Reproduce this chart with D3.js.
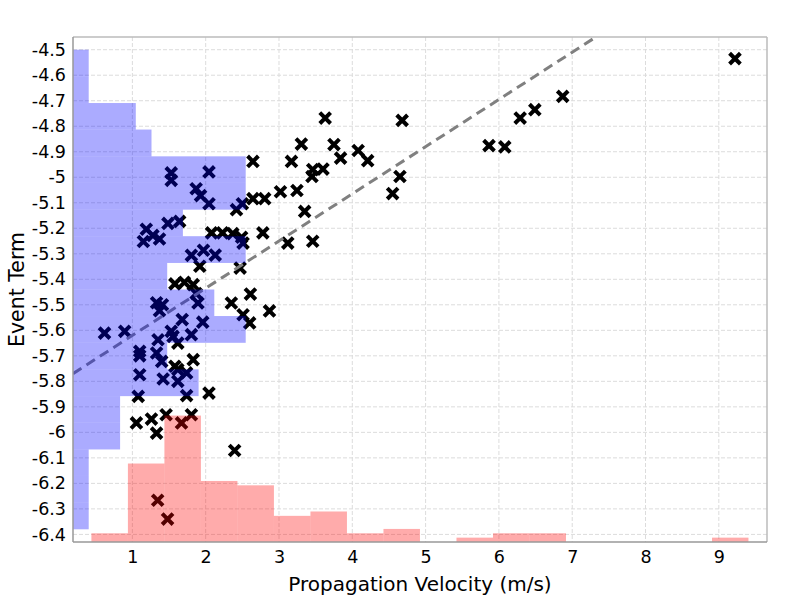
<!DOCTYPE html>
<html>
<head>
<meta charset="utf-8">
<script src="https://cdn.jsdelivr.net/npm/d3@7"></script>
<style>
  body { margin: 0; background: #fff; }
  text { font-family: "DejaVu Sans", sans-serif; }
</style>
</head>
<body>
<svg width="800" height="600"></svg>
<script>
// scatter: propagation velocity vs event term
const velocity = [
  9.22, 6.87, 6.49, 6.29, 6.08, 5.865, 4.68, 4.65, 4.55, 3.63,
  3.305, 3.17, 3.75, 3.84, 4.08, 4.21, 3.60, 3.46, 3.45, 3.245,
  3.02, 3.35, 3.12, 3.46, 2.645, 2.045, 1.53, 1.53, 1.87, 1.93,
  2.045, 2.42, 2.50, 2.645, 2.805, 1.19, 1.15, 1.28, 1.37, 1.485,
  1.645, 2.08, 2.23, 2.37, 2.49, 2.51, 2.78, 1.805, 1.97, 2.13,
  1.92, 2.47, 1.58, 1.71, 1.83, 1.87, 1.895, 2.61, 2.35, 2.87,
  2.51, 2.60, 1.96, 1.33, 1.41, 1.37, 0.62, 0.895, 1.68, 1.53,
  1.555, 1.805, 1.35, 1.62, 1.10, 1.10, 1.33, 1.40, 1.83, 1.58,
  1.62, 1.74, 1.10, 1.42, 1.62, 1.08, 1.74, 2.045, 1.055, 1.26,
  1.33, 1.46, 1.67, 1.805, 2.395, 1.345, 1.48
];
const eventTerm = [
  -4.535, -4.683, -4.735, -4.768, -4.881, -4.876, -4.777, -4.997, -5.064, -4.768,
  -4.870, -4.938, -4.872, -4.925, -4.895, -4.935, -4.968, -4.970, -4.997, -5.052,
  -5.057, -5.134, -5.258, -5.251, -4.938, -4.979, -4.983, -5.012, -5.045, -5.072,
  -5.104, -5.127, -5.104, -5.084, -5.084, -5.204, -5.252, -5.228, -5.242, -5.181,
  -5.173, -5.218, -5.218, -5.221, -5.235, -5.258, -5.218, -5.306, -5.286, -5.305,
  -5.349, -5.356, -5.418, -5.412, -5.421, -5.456, -5.493, -5.458, -5.493, -5.524,
  -5.539, -5.571, -5.568, -5.492, -5.500, -5.523, -5.611, -5.604, -5.558, -5.604,
  -5.624, -5.617, -5.637, -5.650, -5.682, -5.700, -5.689, -5.722, -5.715, -5.741,
  -5.754, -5.767, -5.774, -5.791, -5.800, -5.859, -5.856, -5.846, -5.963, -5.948,
  -6.003, -5.931, -5.963, -5.931, -6.071, -6.266, -6.340
];

// fitted trend line
const fitSlope = 0.185;
const fitIntercept = -5.805;

// marginal histogram of event term (bars along the left edge)
const termEdges = [-6.38, -6.276, -6.171, -6.067, -5.962, -5.858, -5.753, -5.649, -5.544,
  -5.44, -5.336, -5.231, -5.127, -5.022, -4.918, -4.813, -4.709, -4.604, -4.5];
const termCounts = [1, 1, 1, 3, 3, 8, 6, 11, 9, 6, 11, 7, 11, 11, 5, 4, 1, 1];

// marginal histogram of velocity (bars along the bottom edge)
const velEdges = [0.441, 0.939, 1.437, 1.935, 2.433, 2.931, 3.429, 3.927, 4.425, 4.923,
  5.421, 5.919, 6.417, 6.915, 7.413, 7.911, 8.409, 8.907, 9.404];
const velCounts = [2, 18, 29, 14, 13, 6, 7, 2, 3, 0, 1, 2, 2, 0, 0, 0, 0, 1];

const xTicks = [1, 2, 3, 4, 5, 6, 7, 8, 9];
const yTicks = [-4.5, -4.6, -4.7, -4.8, -4.9, -5, -5.1, -5.2, -5.3, -5.4,
  -5.5, -5.6, -5.7, -5.8, -5.9, -6, -6.1, -6.2, -6.3, -6.4];

const svg = d3.select("svg");
const margin = { top: 37, right: 33, bottom: 58, left: 73 };
const width = 800 - margin.left - margin.right;
const height = 600 - margin.top - margin.bottom;

const x = d3.scaleLinear().domain([0.19, 9.657]).range([0, width]);
const y = d3.scaleLinear().domain([-6.4298, -4.4502]).range([height, 0]);
// histogram counts to pixel lengths
const countW = d3.scaleLinear().domain([0, 1]).range([0, 15.7]);
const countH = d3.scaleLinear().domain([0, 1]).range([0, 4.36]);

const g = svg.append("g").attr("transform", `translate(${margin.left},${margin.top})`);

g.append("defs").append("clipPath").attr("id", "plot")
  .append("rect").attr("width", width).attr("height", height);

// grid
g.append("g").selectAll("line").data(xTicks).join("line")
  .attr("x1", d => x(d)).attr("x2", d => x(d))
  .attr("y1", 0).attr("y2", height)
  .attr("stroke", "#dcdcdc").attr("stroke-dasharray", "4,2");
g.append("g").selectAll("line").data(yTicks).join("line")
  .attr("y1", d => y(d)).attr("y2", d => y(d))
  .attr("x1", 0).attr("x2", width)
  .attr("stroke", "#dcdcdc").attr("stroke-dasharray", "4,2");

const plot = g.append("g").attr("clip-path", "url(#plot)");

// scatter crosses
const pts = velocity.map((v, i) => [v, eventTerm[i]]);
const s = 5.4;
plot.append("g").selectAll("path").data(pts).join("path")
  .attr("transform", d => `translate(${x(d[0])},${y(d[1])})`)
  .attr("d", `M${-s},${-s}L${s},${s}M${-s},${s}L${s},${-s}`)
  .attr("stroke", "#000").attr("stroke-width", 4);

// trend line
const xd = x.domain();
plot.append("line")
  .attr("x1", x(xd[0])).attr("y1", y(fitIntercept + fitSlope * xd[0]))
  .attr("x2", x(xd[1])).attr("y2", y(fitIntercept + fitSlope * xd[1]))
  .attr("stroke", "#808080").attr("stroke-width", 3)
  .attr("stroke-dasharray", "10,6");

// left histogram
plot.append("g").selectAll("rect").data(termCounts).join("rect")
  .attr("x", 0)
  .attr("y", (d, i) => y(termEdges[i + 1]))
  .attr("width", d => countW(d))
  .attr("height", (d, i) => y(termEdges[i]) - y(termEdges[i + 1]))
  .attr("fill", "blue").attr("fill-opacity", 0.33);

// bottom histogram
plot.append("g").selectAll("rect").data(velCounts).join("rect")
  .attr("x", (d, i) => x(velEdges[i]))
  .attr("y", d => height - countH(d))
  .attr("width", (d, i) => x(velEdges[i + 1]) - x(velEdges[i]))
  .attr("height", d => countH(d))
  .attr("fill", "red").attr("fill-opacity", 0.33);

// frame
g.append("line").attr("x1", 0).attr("x2", width).attr("y1", 0).attr("y2", 0).attr("stroke", "#bbb").attr("stroke-width", 1.5);
g.append("line").attr("x1", width).attr("x2", width).attr("y1", 0).attr("y2", height).attr("stroke", "#bbb").attr("stroke-width", 1.5);
g.append("line").attr("x1", 0).attr("x2", 0).attr("y1", 0).attr("y2", height).attr("stroke", "#999").attr("stroke-width", 1.5);
g.append("line").attr("x1", 0).attr("x2", width).attr("y1", height).attr("y2", height).attr("stroke", "#999").attr("stroke-width", 1.5);

// axes (labels only)
const xAxis = g.append("g").attr("transform", `translate(0,${height})`)
  .call(d3.axisBottom(x).tickValues(xTicks).tickFormat(d3.format("d")).tickSize(0).tickPadding(9));
const yAxis = g.append("g")
  .call(d3.axisLeft(y).tickValues(yTicks).tickFormat(d => String(d)).tickSize(0).tickPadding(7));
[xAxis, yAxis].forEach(a => {
  a.select(".domain").remove();
  a.selectAll("text").attr("font-size", 17.5).attr("fill", "#000")
    .style("font-family", "'DejaVu Sans', sans-serif");
});

svg.append("text")
  .attr("x", margin.left + width / 2).attr("y", 591)
  .attr("text-anchor", "middle").attr("font-size", 20)
  .text("Propagation Velocity (m/s)");
svg.append("text")
  .attr("transform", `translate(24,${margin.top + height / 2}) rotate(-90)`)
  .attr("text-anchor", "middle").attr("font-size", 20.5)
  .text("Event Term");
</script>
</body>
</html>
